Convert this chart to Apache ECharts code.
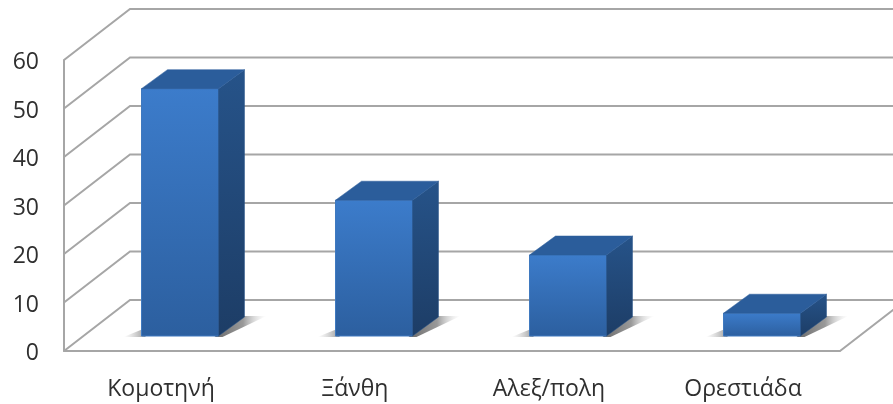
<!DOCTYPE html>
<html><head><meta charset="utf-8">
<style>html,body{margin:0;padding:0;background:#fff}#c{width:893px;height:404px}</style>
<script src="https://cdn.jsdelivr.net/npm/echarts@6/dist/echarts.min.js"></script>
</head><body><div id="c"></div>
<script>
const categories = ['Κομοτηνή','Ξάνθη','Αλεξ/πολη','Ορεστιάδα'];
const values = [51, 28, 16.7, 4.7];
const ticks = [0,10,20,30,40,50,60];

const WALL_DX = 66, WALL_DY = -51;
const BAR_DX = 19, BAR_DY = -15;
const BAR_W = 77, DEPTH_X = 26, DEPTH_Y = -19;
const GRID = '#a6a6a6';

const grad = (x,y,x2,y2,stops) => new echarts.graphic.LinearGradient(x,y,x2,y2,stops.map(s=>({offset:s[0],color:s[1]})));

function renderWall(params, api){
  const t = api.value(1);
  const cs = params.coordSys;
  const y = api.coord([0,t])[1];
  const x0 = cs.x, x1 = cs.x + cs.width;
  const pts = t === 0
    ? [[x0,y],[x0+WALL_DX,y+WALL_DY],[x1+WALL_DX,y+WALL_DY],[x1,y]]
    : [[x0,y],[x0+WALL_DX,y+WALL_DY],[x1+WALL_DX,y+WALL_DY]];
  return {type:'polyline',shape:{points:pts},style:{fill:null,stroke:GRID,lineWidth:2}};
}

function renderBar(params, api){
  const i = api.value(0), v = api.value(1);
  const top = api.coord([i,v]), base = api.coord([i,0]);
  const l = top[0]-BAR_W/2+BAR_DX, r = l+BAR_W;
  const t = top[1]+BAR_DY, b = base[1]+BAR_DY;
  const dx = DEPTH_X, dy = DEPTH_Y;
  return {type:'group',children:[
    {type:'polygon',shape:{points:[[l-18,b+1],[l+4,b-8],[l+4,b+1]]},
      style:{fill:grad(0,0,1,0,[[0,'rgba(170,170,170,0)'],[1,'rgba(110,110,110,0.7)']])}},
    {type:'polygon',shape:{points:[[r-4,b+1],[r+dx-4,b+dy-1],[r+dx+22,b+dy-1],[r+4,b+1]]},
      style:{fill:grad(0,0,1,0,[[0,'rgba(90,90,90,0.9)'],[0.55,'rgba(110,110,110,0.7)'],[1,'rgba(210,210,210,0)']])}},
    {type:'polygon',shape:{points:[[l,b],[r,b],[r,t],[l,t]]},
      style:{fill:grad(0,0,0,1,[[0,'#3c7ccb'],[1,'#2c5f9f']]),stroke:'#3f79bf',lineWidth:1}},
    {type:'polygon',shape:{points:[[r,b],[r+dx,b+dy],[r+dx,t+dy],[r,t]]},
      style:{fill:grad(0,0,0,1,[[0,'#265389'],[1,'#1d3d66']]),stroke:'#28558a',lineWidth:0.5}},
    {type:'polygon',shape:{points:[[l,t],[r,t],[r+dx,t+dy],[l+dx,t+dy]]},
      style:{fill:'#2b5d9b',stroke:'#2b5d9b',lineWidth:0.5}}
  ]};
}

const chart = echarts.init(document.getElementById('c'),null,{renderer:'canvas'});
chart.setOption({
  animation:false,
  backgroundColor:'#fff',
  grid:{left:64,right:53,top:60,bottom:53,containLabel:false},
  xAxis:{type:'category',data:categories,
    axisLine:{show:true,lineStyle:{color:GRID,width:2}},
    axisTick:{show:false},
    axisLabel:{color:'#2f2f2f',fontSize:23,fontFamily:'Open Sans',margin:27,interval:0}},
  yAxis:{type:'value',min:0,max:60,interval:10,
    axisLine:{show:true,lineStyle:{color:GRID,width:2}},
    axisTick:{show:false},splitLine:{show:false},
    axisLabel:{color:'#2f2f2f',fontSize:23,fontFamily:'Open Sans',margin:25,align:'right',verticalAlign:'top',lineHeight:5}},
  series:[
    {type:'custom',z:1,silent:true,renderItem:renderWall,encode:{x:0,y:1},
     data:ticks.map(t=>[0,t])},
    {type:'custom',z:2,renderItem:renderBar,encode:{x:0,y:1},
     data:values.map((v,i)=>[i,v])}
  ]
});
</script></body></html>
